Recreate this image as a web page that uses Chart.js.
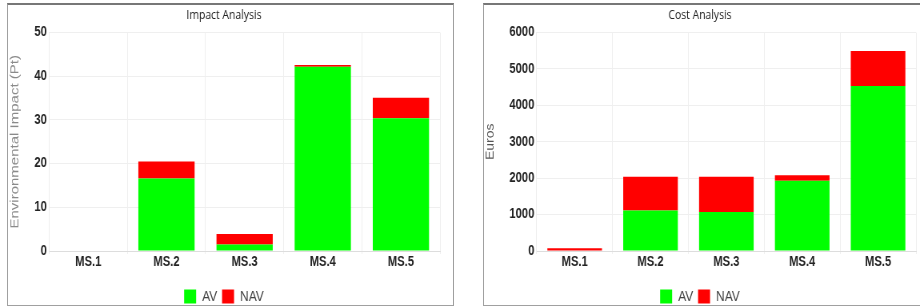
<!DOCTYPE html>
<html><head><meta charset="utf-8">
<script src="https://cdn.jsdelivr.net/npm/chart.js@4/dist/chart.umd.min.js"></script>
<style>
body{margin:0;background:#fff;width:920px;height:307px;overflow:hidden;position:relative}
.panel{position:absolute;top:3px;width:445px;height:300px;border:1px solid #a0a0a0;border-top:2px solid #777;background:#fff;overflow:hidden}
#p1{left:7px} #p2{left:483px}
canvas{display:block;transform:scaleX(0.8);transform-origin:0 0}
</style></head><body>
<div class="panel" id="p1"><canvas id="c1" width="556" height="309"></canvas></div>
<div class="panel" id="p2"><canvas id="c2" width="556" height="309"></canvas></div>
<script>
const categories = ['MS.1','MS.2','MS.3','MS.4','MS.5'];
const seriesNames = ['AV','NAV'];
const impactAV  = [0, 16.6, 1.5, 42.2, 30.4];
const impactNAV = [0, 3.9, 2.4, 0.4, 4.7];
const costAV    = [0, 1116, 1072, 1931, 4535];
const costNAV   = [75, 925, 970, 147, 958];
const impactTicks = {min:0, max:50, step:10};
const costTicks   = {min:0, max:6000, step:1000};

const SANS = "'Liberation Sans',Arial,sans-serif";
Chart.defaults.devicePixelRatio = 1;

function makeChart(id, title, yTitle, yTitleColor, yTitleSize, av, nav, ticks){
  return new Chart(document.getElementById(id), {
    type:'bar',
    data:{
      labels: categories,
      datasets:[
        {label:seriesNames[0], data:av, backgroundColor:'#00ff00', borderWidth:0},
        {label:seriesNames[1], data:nav, backgroundColor:'#ff0000', borderWidth:0}
      ]
    },
    options:{
      responsive:false, animation:false,
      layout:{padding:{left:0,right:16,top:0,bottom:0}},
      plugins:{
        title:{display:true, text:title, color:'#222',
          font:{family:"'Open Sans','Noto Sans',sans-serif", size:13, weight:'normal'},
          padding:{top:2,bottom:10}},
        legend:{position:'bottom',
          labels:{boxWidth:15, boxHeight:14, padding:6, color:'#444',
            font:{family:SANS, size:15}}},
        tooltip:{enabled:false}
      },
      scales:{
        x:{stacked:true,
          grid:{color:'#efefef', tickLength:3, offset:true},
          border:{color:'#ddd'},
          ticks:{color:'#222', padding:0, font:{family:SANS, size:14, weight:'bold'}},
          afterFit:(s)=>{ s.height = 32; }
        },
        y:{stacked:true, min:ticks.min, max:ticks.max,
          grid:{color:'#efefef', drawTicks:false},
          border:{color:'#eee'},
          ticks:{stepSize:ticks.step, color:'#222', padding:3,
            font:{family:SANS, size:14, weight:'bold'},
            callback:(v)=>String(v)},
          title:{display:true, text:yTitle, color:yTitleColor,
            font:{family:SANS, size:yTitleSize}, padding:{top:0,bottom:12}}
        }
      }
    }
  });
}
makeChart('c1','Impact Analysis','Environmental Impact (Pt)','#8a8a8a',15,impactAV,impactNAV,impactTicks);
makeChart('c2','Cost Analysis','Euros','#555',14,costAV,costNAV,costTicks);
</script>
</body></html>
